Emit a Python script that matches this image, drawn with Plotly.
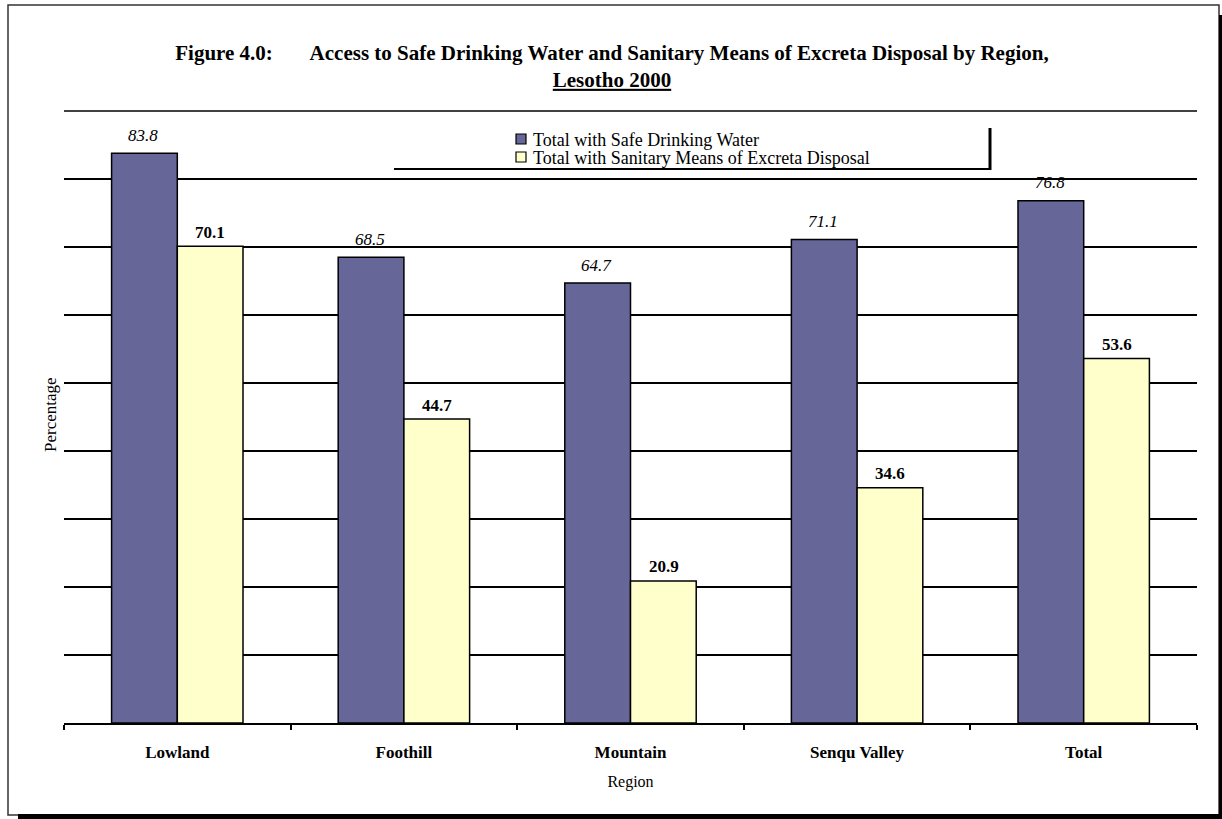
import plotly.graph_objects as go

# ---- data ----
regions = ["Lowland", "Foothill", "Mountain", "Senqu Valley", "Total"]
safe_water = [83.8, 68.5, 64.7, 71.1, 76.8]
sanitation = [70.1, 44.7, 20.9, 34.6, 53.6]
series_names = ["Total with Safe Drinking Water",
                "Total with Sanitary Means of Excreta Disposal"]
series_colors = ["#666699", "#FFFFCC"]
y_max = 90

FONT = "Liberation Serif"
W, H = 1222, 819
L, R, T, B = 64, 25, 111, 96
PW, PH = W - L - R, H - T - B


def px_x(p):
    return (p - L) / PW


def px_y(p):
    return (H - B - p) / PH


fig = go.Figure()
for name, vals, col in zip(series_names, [safe_water, sanitation], series_colors):
    fig.add_trace(go.Bar(
        x=regions, y=vals, name=name, showlegend=False,
        marker=dict(color=col, line=dict(color="black", width=1.5)),
    ))

annotations = []
for r, v in zip(regions, safe_water):
    annotations.append(dict(
        x=r, y=v, xref="x", yref="y", text=f"<i>{v:.1f}</i>", showarrow=False,
        xshift=-34, yshift=18, yanchor="middle",
        font=dict(family=FONT, size=17, color="black")))
for r, v in zip(regions, sanitation):
    annotations.append(dict(
        x=r, y=v, xref="x", yref="y", text=f"<b>{v:.1f}</b>", showarrow=False,
        xshift=33, yshift=14, yanchor="middle",
        font=dict(family=FONT, size=17, color="black")))

annotations.append(dict(
    x=px_x(50), y=px_y(415), xref="paper", yref="paper", text="Percentage",
    textangle=-90, showarrow=False, xanchor="center", yanchor="middle",
    font=dict(family=FONT, size=17, color="black")))

shapes = [
    # top gridline at the axis maximum (top edge of the plot area)
    dict(type="line", xref="paper", yref="paper", x0=0, x1=1, y0=1, y1=1,
         line=dict(color="black", width=1.5)),
    # outer frame
    dict(type="rect", xref="paper", yref="paper",
         x0=px_x(8), x1=px_x(1219), y0=px_y(5), y1=px_y(815),
         line=dict(color="#333333", width=1.5), layer="below"),
    # frame shadow
    dict(type="line", xref="paper", yref="paper",
         x0=px_x(1220.5), x1=px_x(1220.5), y0=px_y(15), y1=px_y(819),
         line=dict(color="black", width=3)),
    dict(type="line", xref="paper", yref="paper",
         x0=px_x(18), x1=px_x(1222), y0=px_y(816.5), y1=px_y(816.5),
         line=dict(color="black", width=5)),
    # legend box partial outline
    dict(type="line", xref="paper", yref="paper",
         x0=px_x(394), x1=px_x(991), y0=px_y(169), y1=px_y(169),
         line=dict(color="black", width=2)),
    dict(type="line", xref="paper", yref="paper",
         x0=px_x(990), x1=px_x(990), y0=px_y(128), y1=px_y(170),
         line=dict(color="black", width=3)),
]

# legend entries (drawn manually to match the tight line spacing)
legend_rows = [140, 158]
for name, col, yc in zip(series_names, series_colors, legend_rows):
    shapes.append(dict(type="rect", xref="paper", yref="paper",
                       x0=px_x(516), x1=px_x(526), y0=px_y(yc - 6), y1=px_y(yc + 4),
                       fillcolor=col, line=dict(color="black", width=1.2)))
    annotations.append(dict(x=px_x(531), y=px_y(yc), xref="paper", yref="paper",
                            text=name, showarrow=False, xanchor="left",
                            yanchor="middle",
                            font=dict(family=FONT, size=18, color="black")))

nb = "\u00a0"
title_text = ("<b>Figure 4.0:" + nb * 7 +
              "Access to Safe Drinking Water and Sanitary Means of Excreta Disposal by Region,"
              "<br><u>Lesotho 2000</u></b>")

fig.update_layout(
    width=W, height=H,
    margin=dict(l=L, r=R, t=T, b=B),
    paper_bgcolor="white", plot_bgcolor="white",
    font=dict(family=FONT, size=17, color="black"),
    title=dict(text=title_text, x=612 / W, xref="container", xanchor="center",
               y=1 - 59.5 / H, yref="container", yanchor="middle",
               font=dict(family=FONT, size=21, color="black")),
    barmode="group", bargap=0.42, bargroupgap=0,
    showlegend=False,
    xaxis=dict(showline=True, linecolor="black", linewidth=1.5,
               ticks="outside", tickson="boundaries", ticklen=5,
               tickcolor="black", tickwidth=1.5, ticklabelstandoff=13,
               tickfont=dict(family=FONT, size=17, color="black", weight="bold"),
               title=dict(text="Region", font=dict(family=FONT, size=16, color="black"),
                          standoff=15),
               showgrid=False),
    yaxis=dict(range=[0, y_max], tick0=0, dtick=10, showticklabels=False, ticks="",
               showgrid=True, gridcolor="black", gridwidth=1.5,
               zeroline=False, showline=False),
    annotations=annotations,
    shapes=shapes,
)

fig.write_html("out.html")
